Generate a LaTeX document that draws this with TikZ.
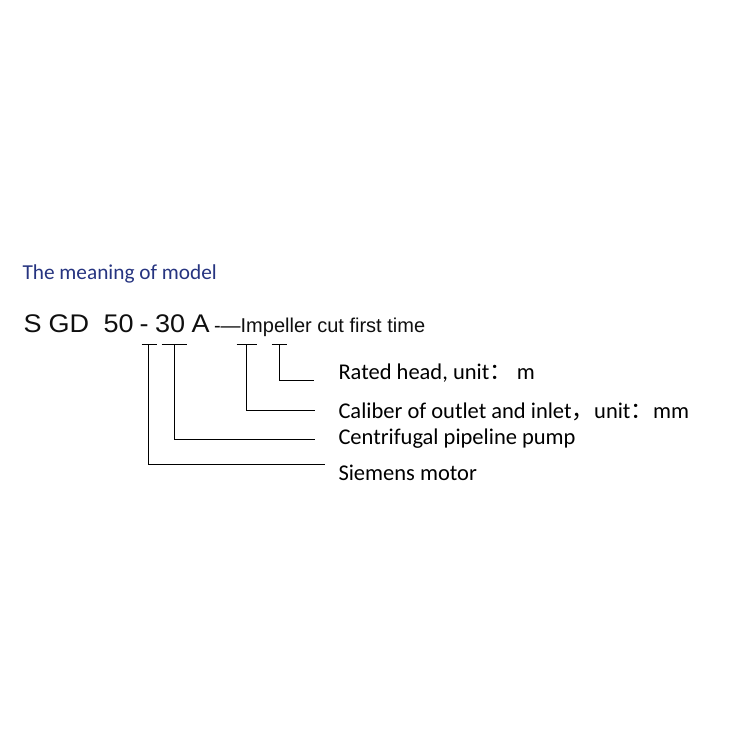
\documentclass[tikz,border=0pt]{standalone}
\usepackage{fontspec}
\setmainfont{Carlito}
\newfontfamily\arialf{Liberation Sans}
\newfontfamily\cjk{Noto Sans CJK SC}
\definecolor{titleblue}{RGB}{38,52,128}
\definecolor{codeblack}{RGB}{15,15,15}
\begin{document}
\begin{tikzpicture}[x=1pt,y=-1pt,
  every node/.style={inner sep=0pt,outer sep=0pt,anchor=base west},
  codetxt/.style={font=\arialf\fontsize{25.5}{30}\selectfont,text=codeblack,xscale=1.06,transform shape},
  imptxt/.style={font=\arialf\fontsize{20}{24}\selectfont,text=codeblack},
  lbl/.style={font=\fontsize{22.5}{27}\selectfont,text=black},
  ttl/.style={font=\fontsize{21.3}{25}\selectfont,text=titleblue},
  lead/.style={line width=1pt,black}]
\useasboundingbox (0,0) rectangle (750,750);
\node[ttl] (title) at (22.5,279) {The meaning of model};
\node[codetxt] (cS) at (23.5,332.5) {S};
\node[codetxt] (cGD) at (48.5,332.5) {GD};
\node[codetxt] (c50) at (103.5,332.5) {50};
\node[codetxt] (cdash) at (139.5,332.5) {-};
\node[codetxt] (c30) at (155,332.5) {30};
\node[codetxt] (cA) at (191.5,332.5) {A};
\node[imptxt] (imp) at (214,332.5) {-—Impeller cut first time};
% label texts
\node[lbl] (rated) at (338.5,379) {Rated head, unit{\cjk ：} m};
\node[lbl] (caliber) at (338.5,418) {Caliber of outlet and inlet{\cjk ，}unit{\cjk ：}mm};
\node[lbl] (centri) at (338.5,444.5) {Centrifugal pipeline pump};
\node[lbl] (siemens) at (338.5,480) {Siemens motor};
% ticks
\coordinate (t1a) at (141.7,344.3); \coordinate (t1b) at (156.7,344.3);
\coordinate (t2a) at (161.7,344.3); \coordinate (t2b) at (186.7,344.3);
\coordinate (t3a) at (236.7,344.3); \coordinate (t3b) at (256.7,344.3);
\coordinate (t4a) at (271.7,344.3); \coordinate (t4b) at (286.7,344.3);
\draw[lead] (t1a) -- (t1b);
\draw[lead] (t2a) -- (t2b);
\draw[lead] (t3a) -- (t3b);
\draw[lead] (t4a) -- (t4b);
% leaders
\coordinate (v4) at (279,344.3); \coordinate (e4) at (314,380);
\coordinate (v3) at (246,344.3); \coordinate (e3) at (315,410);
\coordinate (v2) at (174.5,344.3); \coordinate (e2) at (315,439.5);
\coordinate (v1) at (148.5,344.3); \coordinate (e1) at (325,464);
\draw[lead] (v4) |- (e4);
\draw[lead] (v3) |- (e3);
\draw[lead] (v2) |- (e2);
\draw[lead] (v1) |- (e1);
\end{tikzpicture}
\end{document}
